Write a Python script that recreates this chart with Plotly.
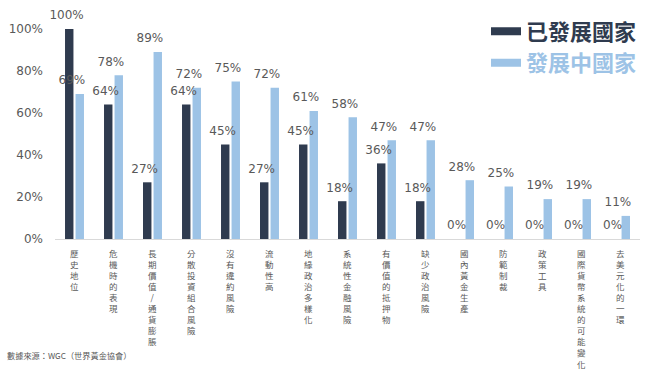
import plotly.graph_objects as go

categories = ["歷史地位", "危機時的表現", "長期價值/通貨膨脹", "分散投資組合風險", "沒有違約風險",
              "流動性高", "地緣政治多樣化", "系統性金融風險", "有價值的抵押物", "缺少政治風險",
              "國內黃金生產", "防範制裁", "政策工具", "國際貨幣系統的可能變化", "去美元化的一環"]
developed = [100, 64, 27, 64, 45, 27, 45, 18, 36, 18, 0, 0, 0, 0, 0]
developing = [69, 78, 89, 72, 75, 72, 61, 58, 47, 47, 28, 25, 19, 19, 11]
series_names = ["已發展國家", "發展中國家"]
y_ticks = [0, 20, 40, 60, 80, 100]

dark = "#2f3b4f"
light = "#9dc3e6"
gray = "#595959"
GAP = 0.46

fig = go.Figure()
for vals, col in [(developed, dark), (developing, light)]:
    fig.add_trace(go.Bar(
        x=categories, y=[v / 100 for v in vals],
        marker=dict(color=col, line=dict(width=0)),
        showlegend=False, hoverinfo="skip",
    ))
# value labels, grouped like the bars
for vals in [developed, developing]:
    fig.add_trace(go.Scatter(
        x=categories, y=[v / 100 for v in vals], mode="markers+text",
        marker=dict(size=9, opacity=0), text=[f"{v}%" for v in vals],
        textposition="top center",
        textfont=dict(family="DejaVu Sans", size=12, color=gray),
        cliponaxis=False, showlegend=False, hoverinfo="skip",
    ))
for name, col in zip(series_names, [dark, light]):
    fig.add_trace(go.Scatter(
        x=[None], y=[None], mode="lines", line=dict(color=col, width=8),
        name=f'<span style="color:{col}"><b>{name}</b></span>',
    ))

# vertical category labels (one character per line)
annotations = []
for cat in categories:
    annotations.append(dict(
        text="<br>".join(list(cat)), x=cat, xref="x", y=0, yref="paper",
        yanchor="top", xanchor="center", yshift=-6, showarrow=False,
        font=dict(size=8.5, color=gray, family="Noto Sans CJK TC"),
    ))
annotations.append(dict(text="數據來源：WGC（世界黃金協會）", xref="paper", yref="paper",
                        x=-0.085, y=-0.55, xanchor="left", yanchor="middle", showarrow=False,
                        font=dict(size=8.2, color=gray, family="Noto Sans CJK TC")))

fig.update_layout(
    width=648, height=369,
    margin=dict(l=55, r=8, t=29, b=130, autoexpand=False),
    paper_bgcolor="white", plot_bgcolor="white",
    barmode="group", bargap=GAP, bargroupgap=0.2,
    scattermode="group", scattergap=GAP,
    font=dict(family="Noto Sans CJK TC", color=gray),
    legend=dict(x=0.75, y=0.972, xref="container", yref="container",
                xanchor="left", yanchor="top",
                font=dict(size=22, family="Noto Sans CJK TC"),
                bgcolor="rgba(0,0,0,0)", itemwidth=30, tracegroupgap=0),
    xaxis=dict(showticklabels=False, showline=True, linecolor="#d9d9d9", linewidth=1,
               ticks="", showgrid=False, automargin=False),
    yaxis=dict(range=[0, 1], tickvals=[t / 100 for t in y_ticks],
               ticktext=[f"{t}%" for t in y_ticks], ticklabelstandoff=11,
               tickfont=dict(size=12, color=gray, family="DejaVu Sans"),
               showgrid=False, zeroline=False, showline=False, ticks="", automargin=False),
    annotations=annotations,
)

fig.write_html("out.html", config={"displayModeBar": False},
               post_script="document.body.style.margin='0';")
